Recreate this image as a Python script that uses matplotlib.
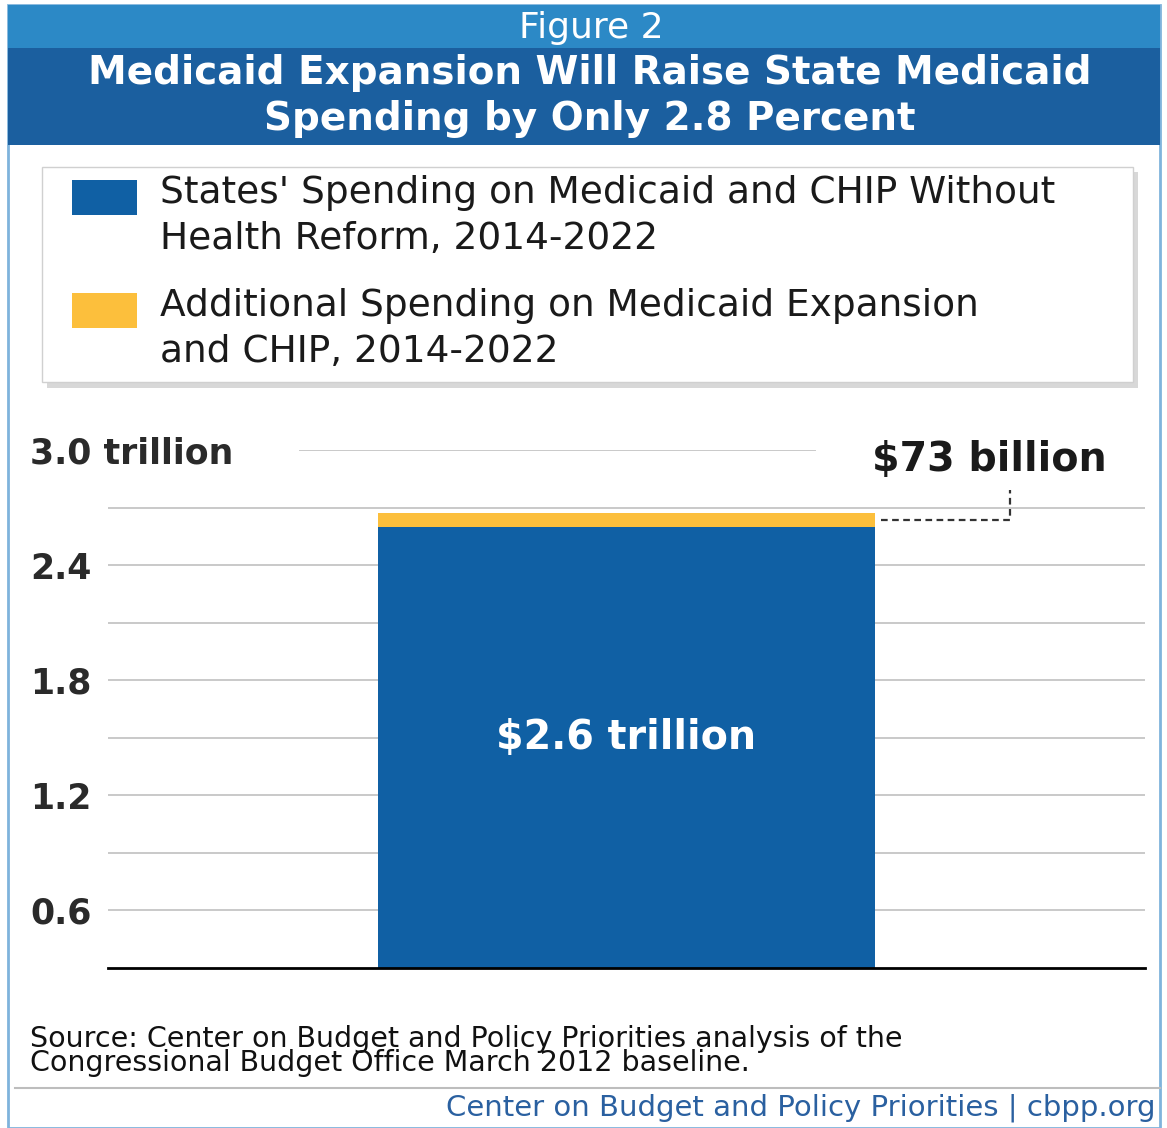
import matplotlib.pyplot as plt
from matplotlib.patches import Rectangle

# spending, trillions of dollars, 2014-2022
base_spending = [2.6]
expansion_spending = [0.073]
bar_pos = [0]

y_ticks = [0.6, 1.2, 1.8, 2.4, 3.0]
y_tick_labels = ['0.6', '1.2', '1.8', '2.4', '3.0 trillion']
grid_values = [0.3, 0.6, 0.9, 1.2, 1.5, 1.8, 2.1, 2.4, 2.7]

legend_labels = ["States' Spending on Medicaid and CHIP Without\nHealth Reform, 2014-2022",
                 "Additional Spending on Medicaid Expansion\nand CHIP, 2014-2022"]

BLUE = '#1060a4'
YELLOW = '#fcbf3c'
HEADER_DARK = '#1b5f9f'
HEADER_LIGHT = '#2c89c6'
BORDER = '#7fb3dc'

plt.rcParams['font.family'] = ['DejaVu Sans']

W, H = 1167, 1128
fig = plt.figure(figsize=(W / 100, H / 100), dpi=100)
fig.patch.set_facecolor('white')


def fx(px):
    return px / W


def fy(py):
    return 1 - py / H


def frect(x0, y0, x1, y1, **kw):
    fig.patches.append(Rectangle((fx(x0), fy(y1)), fx(x1) - fx(x0), fy(y0) - fy(y1),
                                 transform=fig.transFigure, **kw))


# frame and header bands
frect(8, 5, 1160, 1128, facecolor='none', edgecolor=BORDER, lw=2)
frect(8, 5, 1160, 48, facecolor=HEADER_LIGHT, edgecolor='none')
frect(8, 48, 1160, 145, facecolor=HEADER_DARK, edgecolor='none')
fig.text(fx(591), fy(28), 'Figure 2', color='white', fontsize=26,
         ha='center', va='center')
fig.text(fx(590), fy(96), 'Medicaid Expansion Will Raise State Medicaid\nSpending by Only 2.8 Percent',
         color='white', fontsize=28, weight='bold',
         ha='center', va='center', linespacing=1.24)

# legend box with soft shadow
frect(47, 172, 1138, 388, facecolor='#d8d8d8', edgecolor='none')
frect(42, 167, 1133, 382, facecolor='white', edgecolor='#d0d0d0', lw=1)
frect(72, 180, 137, 215, facecolor=BLUE, edgecolor='none')
frect(72, 293, 137, 328, facecolor=YELLOW, edgecolor='none')
fig.text(fx(160), fy(216), legend_labels[0], fontsize=27,
         color='#1a1a1a', ha='left', va='center', linespacing=1.38)
fig.text(fx(160), fy(329), legend_labels[1], fontsize=27,
         color='#1a1a1a', ha='left', va='center', linespacing=1.38)

# chart area
ax = fig.add_axes([fx(108), fy(968), fx(1145) - fx(108), fy(450) - fy(968)])
ax.set_xlim(-1, 1)
ax.set_ylim(0.3, 3.0)
ax.set_facecolor('none')
for s in ax.spines.values():
    s.set_visible(False)

for v in grid_values[1:]:
    ax.axhline(v, color='#c9c9c9', lw=1.4, zorder=0)
ax.axhline(3.0, xmin=0.185, xmax=0.682, color='#c9c9c9', lw=1.4, zorder=0)
ax.axhline(grid_values[0], color='black', lw=2, zorder=3, clip_on=False)

ax.bar(bar_pos, base_spending, width=0.96, color=BLUE, zorder=2)
ax.bar(bar_pos, expansion_spending, bottom=base_spending, width=0.96, color=YELLOW, zorder=2)

ax.set_xticks([])
ax.set_yticks(y_ticks)
ax.set_yticklabels(y_tick_labels, fontsize=25, weight='bold', color='#2a2a2a')
ax.tick_params(axis='y', length=0, pad=56)
for lab in ax.get_yticklabels():
    lab.set_horizontalalignment('left')

ax.text(0, 1.50, f'${base_spending[0]:.1f} trillion', color='white', fontsize=28.5,
        weight='bold', ha='center', va='center', zorder=4)

mid = base_spending[0] + expansion_spending[0] / 2
ax.plot([0.49, 0.74, 0.74], [mid, mid, 2.79], color='#333333', lw=1.6,
        ls=(0, (3, 2)), zorder=4, clip_on=False)
ax.text(0.70, 2.95, f'${expansion_spending[0] * 1000:.0f} billion', fontsize=28.5,
        weight='bold', color='#1a1a1a', ha='center', va='center')

# footer
fig.text(fx(30), fy(1051), 'Source: Center on Budget and Policy Priorities analysis of the\n'
         'Congressional Budget Office March 2012 baseline.', fontsize=20.5,
         color='#111111', ha='left', va='center', linespacing=0.85)
fig.add_artist(plt.Line2D([fx(15), fx(1160)], [fy(1088), fy(1088)], color='#bdbdbd', lw=1.5))
fig.text(fx(1155), fy(1108), 'Center on Budget and Policy Priorities | cbpp.org', fontsize=21,
         color='#2a60a0', ha='right', va='center')

fig.savefig('out.png', dpi=100)
